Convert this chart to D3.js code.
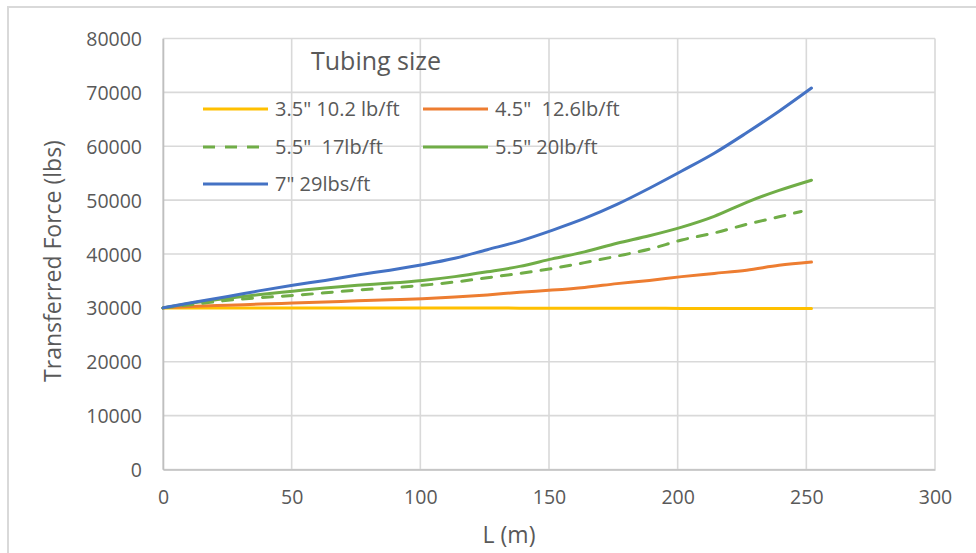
<!DOCTYPE html>
<html>
<head>
<meta charset="utf-8">
<script src="https://cdn.jsdelivr.net/npm/d3@7"></script>
<style>
  html, body { margin: 0; padding: 0; background: #fff; }
  svg { display: block; font-family: "Open Sans", "Noto Sans", sans-serif; }
</style>
</head>
<body>
<svg id="chart" width="976" height="553"></svg>
<script>
// Pipe length along the tubing (m)
const lengthM = [0, 12.6, 25.2, 37.8, 50.4, 63, 75.6, 88.2, 100.8, 113.4, 126,
                 138.6, 151.2, 163.8, 176.4, 189, 201.6, 214.2, 226.8, 239.4, 252];
// The 17 lb/ft curve stops a little short
const lengthM17 = [0, 12.6, 25.2, 37.8, 50.4, 63, 75.6, 88.2, 100.8, 113.4, 126,
                   138.6, 151.2, 163.8, 176.4, 189, 201.6, 214.2, 226.8, 239.4, 248];

// Transferred force (lbs) for each tubing size
const force35_102 = [30000, 30000, 30000, 30000, 30000, 30000, 30000, 30000, 30000, 30000, 30000,
                     29950, 29950, 29950, 29950, 29950, 29900, 29900, 29900, 29900, 29900];
const force45_126 = [30000, 30300, 30500, 30700, 30900, 31100, 31300, 31500, 31700, 32000, 32400,
                     32900, 33300, 33800, 34500, 35100, 35800, 36400, 37000, 37900, 38500];
const force55_17  = [30000, 30700, 31400, 31900, 32300, 32800, 33300, 33700, 34200, 34800, 35600,
                     36400, 37300, 38400, 39600, 40900, 42600, 43900, 45500, 46900, 47900];
const force55_20  = [30000, 31000, 31800, 32500, 33100, 33700, 34200, 34600, 35100, 35800, 36700,
                     37700, 39100, 40400, 42000, 43400, 45000, 47000, 49600, 51800, 53700];
const force7_29   = [30000, 31100, 32100, 33200, 34200, 35100, 36100, 37000, 38000, 39200, 40800,
                     42400, 44400, 46600, 49200, 52200, 55400, 58700, 62500, 66500, 70800];

const seriesNames = ['3.5" 10.2 lb/ft', '4.5"  12.6lb/ft', '5.5"  17lb/ft', '5.5" 20lb/ft', '7" 29lbs/ft'];

const xTicks = [0, 50, 100, 150, 200, 250, 300];
const yTicks = [0, 10000, 20000, 30000, 40000, 50000, 60000, 70000, 80000];

const series = [
  { name: seriesNames[0], x: lengthM,   y: force35_102, color: "#ffc000", dash: null },
  { name: seriesNames[1], x: lengthM,   y: force45_126, color: "#ed7d31", dash: null },
  { name: seriesNames[2], x: lengthM17, y: force55_17,  color: "#70ad47", dash: "10,10" },
  { name: seriesNames[3], x: lengthM,   y: force55_20,  color: "#70ad47", dash: null },
  { name: seriesNames[4], x: lengthM,   y: force7_29,   color: "#4472c4", dash: null }
];

const svg = d3.select("#chart");
const W = 976, H = 553;
const plot = { left: 163, right: 935, top: 38.5, bottom: 469.5 };

// Outer chart frame (open on the right and bottom edges)
svg.append("path")
  .attr("d", `M8,${H} L8,7 L${W},7`)
  .attr("fill", "none")
  .attr("stroke", "#d9d9d9")
  .attr("stroke-width", 2);

const x = d3.scaleLinear().domain([0, 300]).range([plot.left, plot.right]);
const y = d3.scaleLinear().domain([0, 80000]).range([plot.bottom, plot.top]);

// Gridlines
const grid = svg.append("g");
grid.selectAll("line.h").data(yTicks).join("line")
  .attr("x1", plot.left).attr("x2", plot.right)
  .attr("y1", d => y(d)).attr("y2", d => y(d))
  .attr("stroke", "#d9d9d9").attr("stroke-width", 1.6);
grid.selectAll("line.v").data(xTicks).join("line")
  .attr("y1", plot.top).attr("y2", plot.bottom)
  .attr("x1", d => x(d)).attr("x2", d => x(d))
  .attr("stroke", "#d9d9d9").attr("stroke-width", 1.6);

// Axes
const xAxis = svg.append("g")
  .attr("transform", `translate(0,${plot.bottom})`)
  .call(d3.axisBottom(x).tickValues(xTicks).tickSize(0).tickPadding(21).tickFormat(d3.format("d")));
const yAxis = svg.append("g")
  .attr("transform", `translate(${plot.left},0)`)
  .call(d3.axisLeft(y).tickValues(yTicks).tickSize(0).tickPadding(21).tickFormat(d3.format("d")));
[xAxis, yAxis].forEach(a => {
  a.select(".domain").attr("stroke", "#bfbfbf").attr("stroke-width", 1.6);
  a.selectAll("text").attr("fill", "#595959").style("font-size", "19.5px")
    .style("font-family", '"Open Sans", sans-serif');
});
yAxis.selectAll("text").attr("dy", "0.36em");

// Axis titles
svg.append("text")
  .attr("x", 509).attr("y", 543)
  .attr("text-anchor", "middle").attr("fill", "#595959")
  .style("font-size", "23px").text("L (m)");
svg.append("text")
  .attr("transform", `translate(61,261) rotate(-90)`)
  .attr("text-anchor", "middle").attr("fill", "#595959")
  .style("font-size", "23px").text("Transferred Force (lbs)");

// Series lines
const line = d3.line().x(d => x(d[0])).y(d => y(d[1])).curve(d3.curveMonotoneX);
svg.append("g").selectAll("path").data(series).join("path")
  .attr("d", s => line(s.x.map((v, i) => [v, s.y[i]])))
  .attr("fill", "none")
  .attr("stroke", s => s.color)
  .attr("stroke-width", 3)
  .attr("stroke-linecap", "round")
  .attr("stroke-dasharray", s => s.dash);

// Legend
const legend = svg.append("g");
legend.append("text")
  .attr("x", 311).attr("y", 70)
  .attr("fill", "#595959").style("font-size", "25px").text("Tubing size");
const legendPos = [
  { lx: 203, ly: 109 }, { lx: 423, ly: 109 },
  { lx: 203, ly: 147 }, { lx: 423, ly: 147 },
  { lx: 203, ly: 184 }
];
const items = legend.selectAll("g.item").data(series).join("g")
  .attr("transform", (d, i) => `translate(${legendPos[i].lx},${legendPos[i].ly})`);
items.append("line")
  .attr("x1", 0).attr("x2", 65).attr("y1", 0).attr("y2", 0)
  .attr("stroke", d => d.color).attr("stroke-width", 3)
  .attr("stroke-dasharray", d => d.dash ? "12,10" : null);
items.append("text")
  .attr("x", 72).attr("y", 7)
  .attr("fill", "#595959").style("font-size", "20px")
  .style("white-space", "pre").attr("xml:space", "preserve")
  .text(d => d.name);
</script>
</body>
</html>
